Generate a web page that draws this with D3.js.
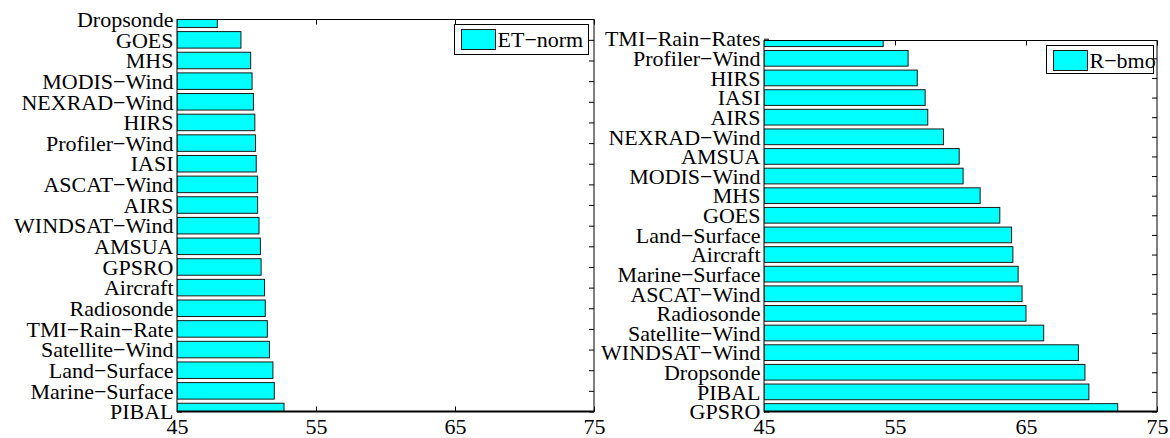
<!DOCTYPE html>
<html>
<head>
<meta charset="utf-8">
<script src="https://d3js.org/d3.v7.min.js"></script>
<style>
  html, body { margin: 0; padding: 0; background: #fff; }
  svg { display: block; }
  text { font-family: "Liberation Serif", "Times New Roman", serif; fill: #000; }
</style>
</head>
<body>
<svg id="chart" width="1170" height="438"></svg>
<script>
// ---- data ----
const leftCategories = ["Dropsonde","GOES","MHS","MODIS−Wind","NEXRAD−Wind","HIRS","Profiler−Wind","IASI","ASCAT−Wind","AIRS","WINDSAT−Wind","AMSUA","GPSRO","Aircraft","Radiosonde","TMI−Rain−Rate","Satellite−Wind","Land−Surface","Marine−Surface","PIBAL"];
const leftValues = [47.9,49.6,50.3,50.4,50.5,50.6,50.65,50.7,50.8,50.8,50.9,51.0,51.05,51.3,51.35,51.5,51.65,51.9,52.0,52.7];
const leftLegend = "ET−norm";

const rightCategories = ["TMI−Rain−Rates","Profiler−Wind","HIRS","IASI","AIRS","NEXRAD−Wind","AMSUA","MODIS−Wind","MHS","GOES","Land−Surface","Aircraft","Marine−Surface","ASCAT−Wind","Radiosonde","Satellite−Wind","WINDSAT−Wind","Dropsonde","PIBAL","GPSRO"];
const rightValues = [54.1,56.0,56.7,57.3,57.5,58.7,59.9,60.2,61.5,63.0,63.9,64.0,64.4,64.7,65.0,66.35,69.0,69.5,69.8,72.0];
const rightLegend = "R−bmo";

const xDomain = [45, 75];
const xTicks = [45, 55, 65, 75];

const svg = d3.select("#chart");
const FS = 22;

function panel(id, cats, vals, legendText, box, legendBox) {
  const x = d3.scaleLinear().domain(xDomain).range([box.x0, box.x1]);
  const y = d3.scalePoint().domain(cats).range([box.c0, box.c1]).padding(0);
  const bh = y.step() * 0.8;
  const g = svg.append("g");

  svg.append("clipPath").attr("id", "clip" + id)
    .append("rect").attr("x", box.x0).attr("y", box.yTop)
    .attr("width", box.x1 - box.x0).attr("height", box.yBot - box.yTop);

  const bottomAx = g.append("g").attr("transform", `translate(0,${box.yBot})`)
    .call(d3.axisBottom(x).tickValues(xTicks).tickSize(-5).tickPadding(7).tickFormat(d3.format("d")));
  bottomAx.select(".domain").remove();
  bottomAx.selectAll("text").style("font-size", FS + "px").style("font-family", "Liberation Serif");
  bottomAx.selectAll("line").attr("stroke", "#000");

  const topAx = g.append("g").attr("transform", `translate(0,${box.yTop})`)
    .call(d3.axisTop(x).tickValues(xTicks).tickSize(-5).tickFormat(""));
  topAx.select(".domain").remove();

  const rightAx = g.append("g").attr("transform", `translate(${box.x1},0)`)
    .call(d3.axisRight(y).tickSize(-5).tickFormat(""));
  rightAx.select(".domain").remove();
  rightAx.selectAll(".tick").filter(d => y(d) < box.yTop + 1).remove();

  const leftAx = g.append("g").attr("transform", `translate(${box.x0},0)`)
    .call(d3.axisLeft(y).tickSize(-5).tickPadding(3.5));
  leftAx.select(".domain").remove();
  leftAx.selectAll("text").style("font-size", FS + "px").style("font-family", "Liberation Serif").attr("dy", "0.33em");
  leftAx.selectAll("line").attr("stroke", "#000");

  g.append("g").attr("clip-path", `url(#clip${id})`)
    .selectAll("rect").data(cats).join("rect")
    .attr("x", x(xDomain[0]))
    .attr("y", d => y(d) - bh / 2)
    .attr("width", (d, i) => x(vals[i]) - x(xDomain[0]))
    .attr("height", bh)
    .attr("fill", "#00ffff")
    .attr("stroke", "#1a1a1a")
    .attr("stroke-width", 1);

  g.append("rect").attr("x", box.x0).attr("y", box.yTop)
    .attr("width", box.x1 - box.x0).attr("height", box.yBot - box.yTop)
    .attr("fill", "none").attr("stroke", "#000").attr("stroke-width", 1);
  g.append("line").attr("x1", box.x0).attr("x2", box.x1)
    .attr("y1", box.yBot).attr("y2", box.yBot)
    .attr("stroke", "#000").attr("stroke-width", 2);

  const lg = g.append("g");
  lg.append("rect").attr("x", legendBox.x).attr("y", legendBox.y)
    .attr("width", legendBox.w).attr("height", legendBox.h)
    .attr("fill", "#fff").attr("stroke", "#000").attr("stroke-width", 1);
  lg.append("rect").attr("x", legendBox.x + 7).attr("y", legendBox.y + 5)
    .attr("width", 34).attr("height", 20)
    .attr("fill", "#00ffff").attr("stroke", "#1a1a1a").attr("stroke-width", 1);
  lg.append("text").attr("x", legendBox.x + 43).attr("y", legendBox.y + 22.5)
    .style("font-size", FS + "px").text(legendText);
}

panel("L", leftCategories, leftValues, leftLegend,
  {x0: 177, x1: 594, yTop: 19.5, c0: 19.2, c1: 411.5, yBot: 411.5},
  {x: 454.5, y: 24.5, w: 134, h: 30});

panel("R", rightCategories, rightValues, rightLegend,
  {x0: 764, x1: 1157, yTop: 40.5, c0: 38.7, c1: 411.5, yBot: 411.5},
  {x: 1046.5, y: 45.5, w: 107, h: 28});
</script>
</body>
</html>
